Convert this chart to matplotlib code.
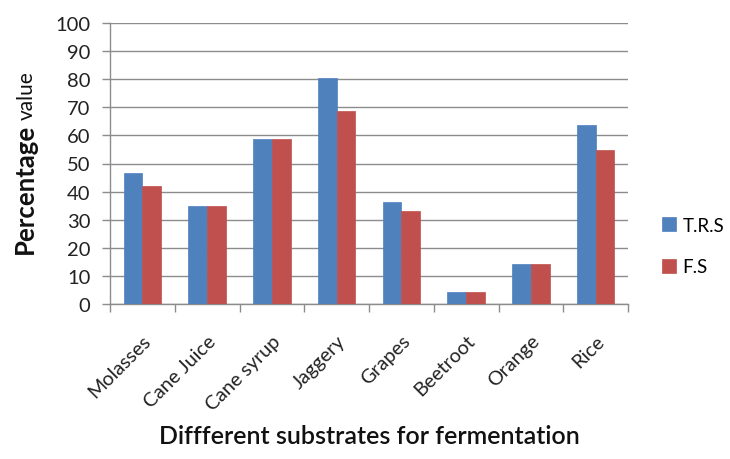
import matplotlib
matplotlib.use("Agg")
import matplotlib.pyplot as plt
import numpy as np

categories = ["Molasses", "Cane Juice", "Cane syrup", "Jaggery", "Grapes", "Beetroot", "Orange", "Rice"]
trs = [46.5, 34.8, 58.6, 80.6, 36.3, 4.4, 14.1, 63.6]
fs = [42.1, 34.8, 58.6, 68.8, 33.1, 4.4, 14.1, 54.7]
series_names = ["T.R.S", "F.S"]
yticks = list(range(0, 101, 10))

plt.rcParams['font.family'] = ['Lato', 'DejaVu Sans']

fig = plt.figure(figsize=(7.3, 4.6), dpi=100)
ax = fig.add_axes([110/730, 1-305/460, (628-110)/730, (305-24)/460])

x = np.arange(len(categories))
w = 0.29
b1 = ax.bar(x - w/2, trs, w, color="#4F81BD", edgecolor="#4F81BD", linewidth=0.5, label=series_names[0], zorder=3)
b2 = ax.bar(x + w/2, fs, w, color="#C0504D", edgecolor="#C0504D", linewidth=0.5, label=series_names[1], zorder=3)

ax.set_xlim(-0.5, len(categories) - 0.5)
ax.set_ylim(0, 100)
ax.set_yticks(yticks)
ax.set_yticklabels([str(t) for t in yticks], fontsize=14.5, color="#222222")
ax.yaxis.grid(True, color="#8C8C8C", linewidth=1, zorder=0)
ax.set_axisbelow(True)

ax.set_xticks(np.arange(-0.5, len(categories), 1.0))
ax.set_xticklabels([])
ax.set_xticks(x, minor=True)
ax.set_xticklabels(categories, minor=True, rotation=45, ha='right', rotation_mode='anchor', fontsize=14.2, color="#222222")
ax.tick_params(axis='x', which='major', length=6, color="#8C8C8C", width=1, direction='out')
ax.tick_params(axis='x', which='minor', length=0, pad=20)
ax.tick_params(axis='y', length=6, color="#8C8C8C", width=1, pad=8)

for s in ['top', 'right']:
    ax.spines[s].set_visible(False)
for s in ['left', 'bottom']:
    ax.spines[s].set_color("#8C8C8C")
    ax.spines[s].set_linewidth(1)

t1 = fig.text(33/730, 1-254/460, "Percentage", rotation=90, rotation_mode='anchor', ha='left', va='baseline',
              fontsize=18.5, fontweight='bold', color="#111111")
fig.canvas.draw()
bb = t1.get_window_extent()
top_px = bb.y1 + 4
fig.text(33/730, top_px/460, "value", rotation=90, rotation_mode='anchor', ha='left', va='baseline',
         fontsize=15, color="#111111")

fig.text(369/730, 1-437/460, "Diffferent substrates for fermentation", ha='center', va='center', fontsize=18, fontweight='semibold', color="#111111")

leg = fig.legend(handles=[b1, b2], labels=series_names, loc='center left', bbox_to_anchor=(662/730, 1-247/460),
                 frameon=False, fontsize=13.5, handlelength=0.75, handleheight=0.75, labelspacing=1.3, handletextpad=0.35,
                 borderpad=0, borderaxespad=0)

fig.savefig("out.png", dpi=100, facecolor="white")
